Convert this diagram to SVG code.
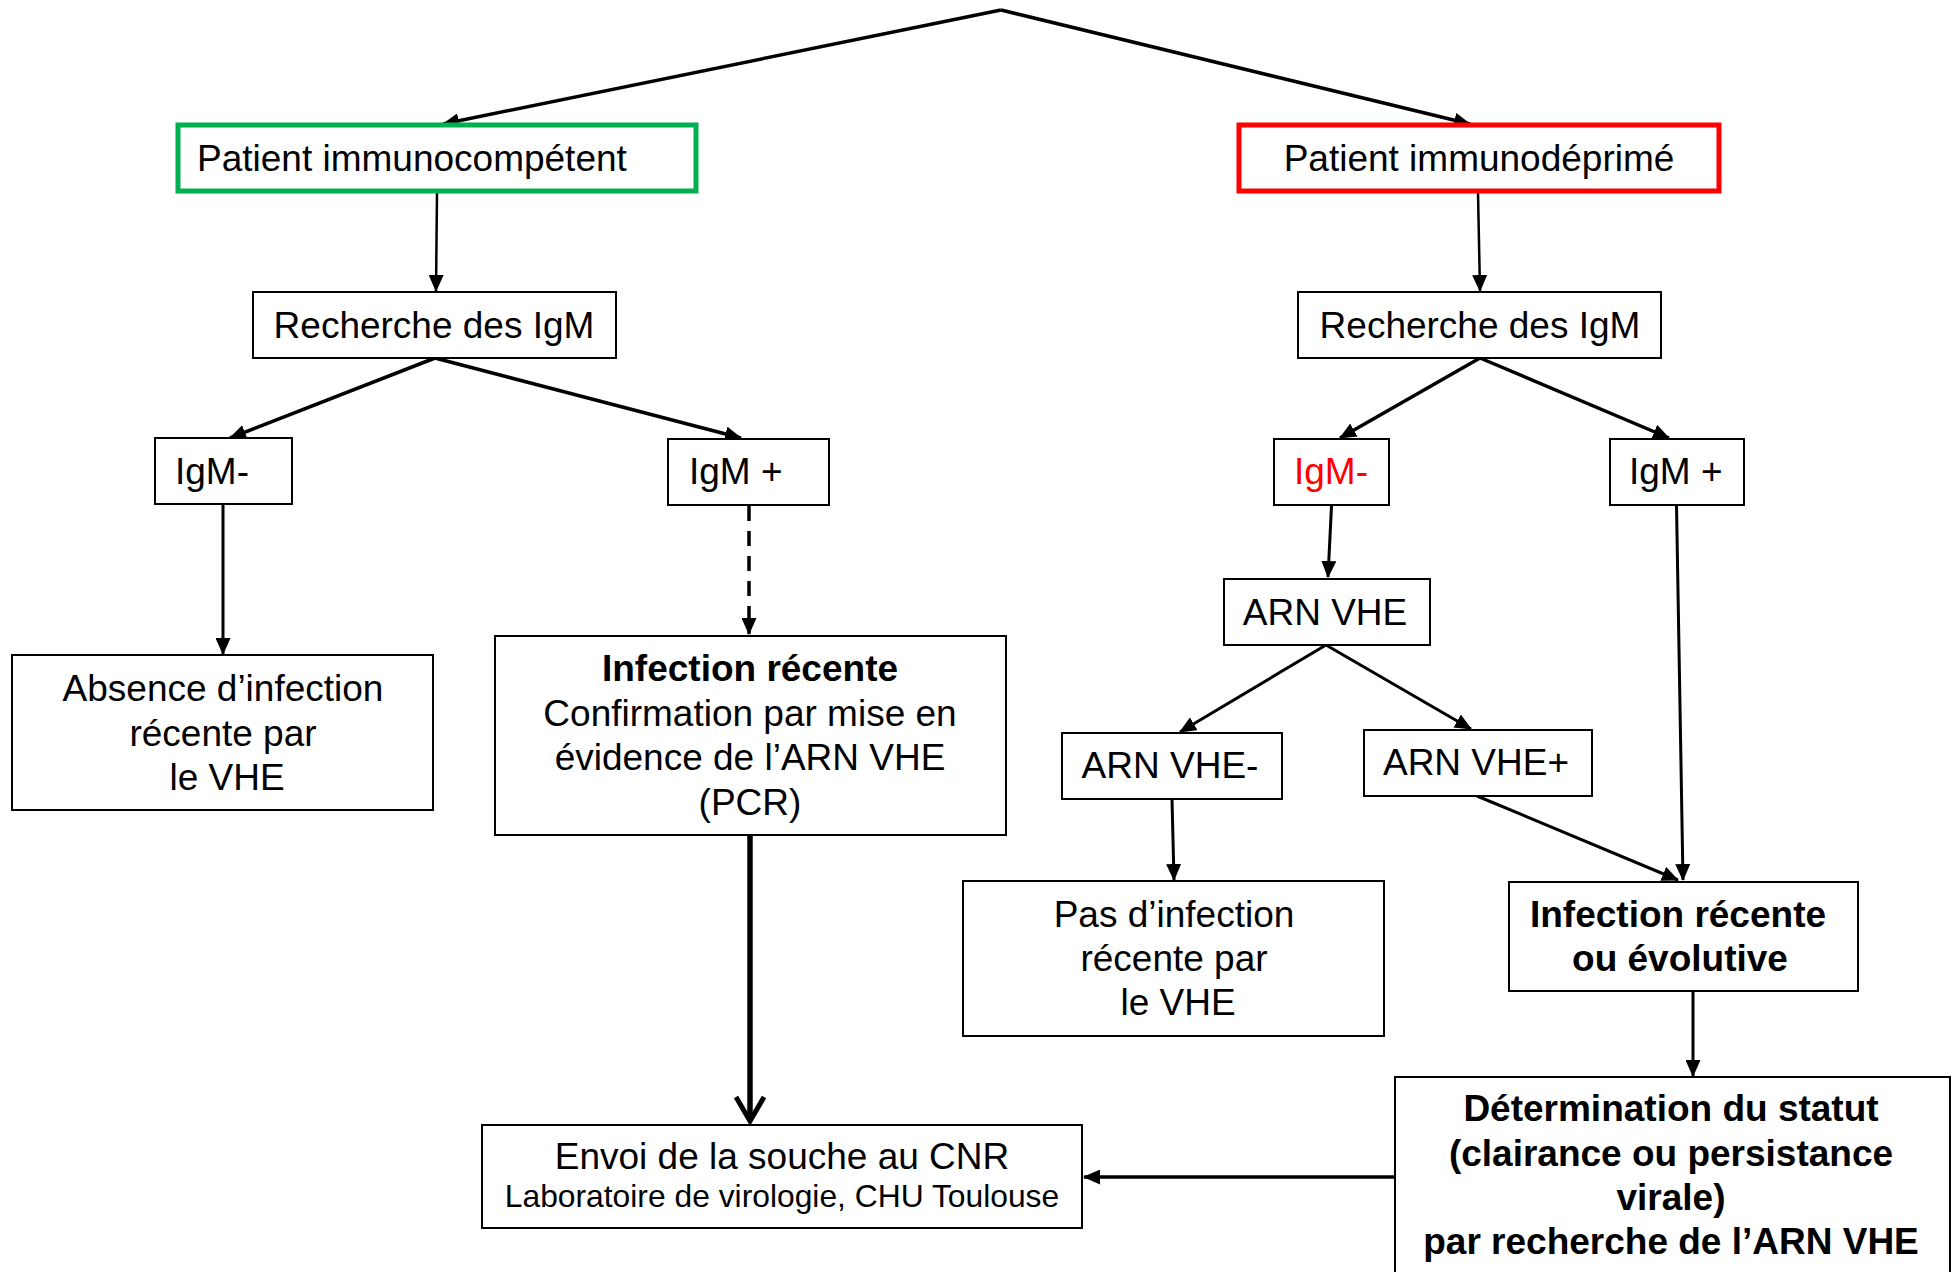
<svg xmlns="http://www.w3.org/2000/svg" width="1955" height="1272" viewBox="0 0 1955 1272">
<defs>
<marker id="ah" markerUnits="userSpaceOnUse" markerWidth="17" markerHeight="15" refX="16" refY="7.5" orient="auto" viewBox="0 0 17 15"><path d="M0,0 L17,7.5 L0,15 z" fill="#000"/></marker>
</defs>
<style>
.box{fill:#fff;stroke:#000;stroke-width:2}
text{font-family:"Liberation Sans",Arial,Helvetica,sans-serif;font-size:37px;fill:#000}
.b{font-weight:bold}
.c{text-anchor:middle}
.ln{stroke:#000;fill:none;stroke-width:3}
.a{marker-end:url(#ah)}
.t{stroke-width:3.5}
</style>
<rect width="1955" height="1272" fill="#fff"/>
<g id="connectors">
<line class="ln t a" x1="1001" y1="10" x2="443" y2="124"/>
<line class="ln t a" x1="1001" y1="10" x2="1470" y2="124"/>
<line class="ln a" style="stroke-width:2.5" x1="437" y1="193" x2="436" y2="291"/>
<line class="ln a" style="stroke-width:2.5" x1="1478" y1="193" x2="1480" y2="291"/>
<line class="ln t a" x1="435" y1="358" x2="230" y2="438"/>
<line class="ln t a" x1="435" y1="358" x2="741" y2="438"/>
<line class="ln t a" x1="1480" y1="358" x2="1340" y2="438"/>
<line class="ln t a" x1="1480" y1="358" x2="1669" y2="438"/>
<line class="ln a" x1="223" y1="505" x2="223" y2="654"/>
<line class="ln a" style="stroke-dasharray:15 10;stroke-width:3.5" x1="749" y1="506" x2="749" y2="634"/>
<line class="ln a" x1="1331.5" y1="506" x2="1328" y2="577"/>
<line class="ln a" x1="1326" y1="645" x2="1180" y2="732"/>
<line class="ln a" x1="1326" y1="645" x2="1471" y2="729"/>
<line class="ln a" x1="1172" y1="799" x2="1174" y2="880"/>
<line class="ln a" x1="1477" y1="796" x2="1678" y2="880"/>
<line class="ln a" x1="1676.5" y1="505" x2="1683" y2="880"/>
<line class="ln a" x1="1693" y1="991" x2="1693" y2="1076"/>
<line class="ln" style="stroke-width:5.5" x1="750" y1="836" x2="750" y2="1119"/>
<path class="ln" style="stroke-width:5" d="M736,1097 L750,1121 L764,1097"/>
<line class="ln t a" x1="1394" y1="1177" x2="1084" y2="1177"/>
</g>
<g id="n-immunocompetent">
<rect x="178" y="125" width="518" height="66" fill="#fff" stroke="#00b050" stroke-width="5"/>
<text x="197" y="171">Patient immunocompétent</text>
</g>
<g id="n-immunodeprime">
<rect x="1239" y="125" width="480" height="66" fill="#fff" stroke="#ff0000" stroke-width="5"/>
<text class="c" x="1479" y="171">Patient immunodéprimé</text>
</g>
<g id="n-recherche-l">
<rect class="box" x="253" y="292" width="363" height="66"/>
<text class="c" x="434" y="338">Recherche des IgM</text>
</g>
<g id="n-recherche-r">
<rect class="box" x="1298" y="292" width="363" height="66"/>
<text class="c" x="1480" y="338">Recherche des IgM</text>
</g>
<g id="n-igm-neg-l">
<rect class="box" x="155" y="438" width="137" height="66"/>
<text x="175" y="484">IgM-</text>
</g>
<g id="n-igm-pos-l">
<rect class="box" x="668" y="439" width="161" height="66"/>
<text x="689" y="484">IgM +</text>
</g>
<g id="n-igm-neg-r">
<rect class="box" x="1274" y="439" width="115" height="66"/>
<text x="1294" y="484" style="fill:#ff0000">IgM-</text>
</g>
<g id="n-igm-pos-r">
<rect class="box" x="1610" y="439" width="134" height="66"/>
<text x="1629" y="484">IgM +</text>
</g>
<g id="n-absence">
<rect class="box" x="12" y="655" width="421" height="155"/>
<text class="c" x="223" y="701">Absence d’infection</text>
<text class="c" x="223" y="746">récente par</text>
<text class="c" x="227" y="790">le VHE</text>
</g>
<g id="n-infection-recente">
<rect class="box" x="495" y="636" width="511" height="199"/>
<text class="c b" x="750" y="681">Infection récente</text>
<text class="c" x="750" y="726">Confirmation par mise en</text>
<text class="c" x="750" y="770">évidence de l’ARN VHE</text>
<text class="c" x="750" y="815">(PCR)</text>
</g>
<g id="n-envoi">
<rect class="box" x="482" y="1125" width="600" height="103"/>
<text class="c" x="782" y="1169">Envoi de la souche au CNR</text>
<text class="c" x="782" y="1207" style="font-size:31.8px">Laboratoire de virologie, CHU Toulouse</text>
</g>
<g id="n-arn-vhe">
<rect class="box" x="1224" y="579" width="206" height="66"/>
<text class="c" x="1325" y="625">ARN VHE</text>
</g>
<g id="n-arn-vhe-neg">
<rect class="box" x="1062" y="733" width="220" height="66"/>
<text class="c" x="1170" y="778">ARN VHE-</text>
</g>
<g id="n-arn-vhe-pos">
<rect class="box" x="1364" y="730" width="228" height="66"/>
<text class="c" x="1476" y="775">ARN VHE+</text>
</g>
<g id="n-pas-infection">
<rect class="box" x="963" y="881" width="421" height="155"/>
<text class="c" x="1174" y="927">Pas d’infection</text>
<text class="c" x="1174" y="971">récente par</text>
<text class="c" x="1178" y="1015">le VHE</text>
</g>
<g id="n-infection-evolutive">
<rect class="box" x="1509" y="882" width="349" height="109"/>
<text class="c b" x="1678" y="927">Infection récente</text>
<text class="c b" x="1680" y="971">ou évolutive</text>
</g>
<g id="n-determination">
<rect class="box" x="1395" y="1077" width="555" height="220"/>
<text class="c b" x="1671" y="1121">Détermination du statut</text>
<text class="c b" x="1671" y="1166">(clairance ou persistance</text>
<text class="c b" x="1671" y="1210">virale)</text>
<text class="c b" x="1671" y="1254">par recherche de l’ARN VHE</text>
</g>
</svg>
